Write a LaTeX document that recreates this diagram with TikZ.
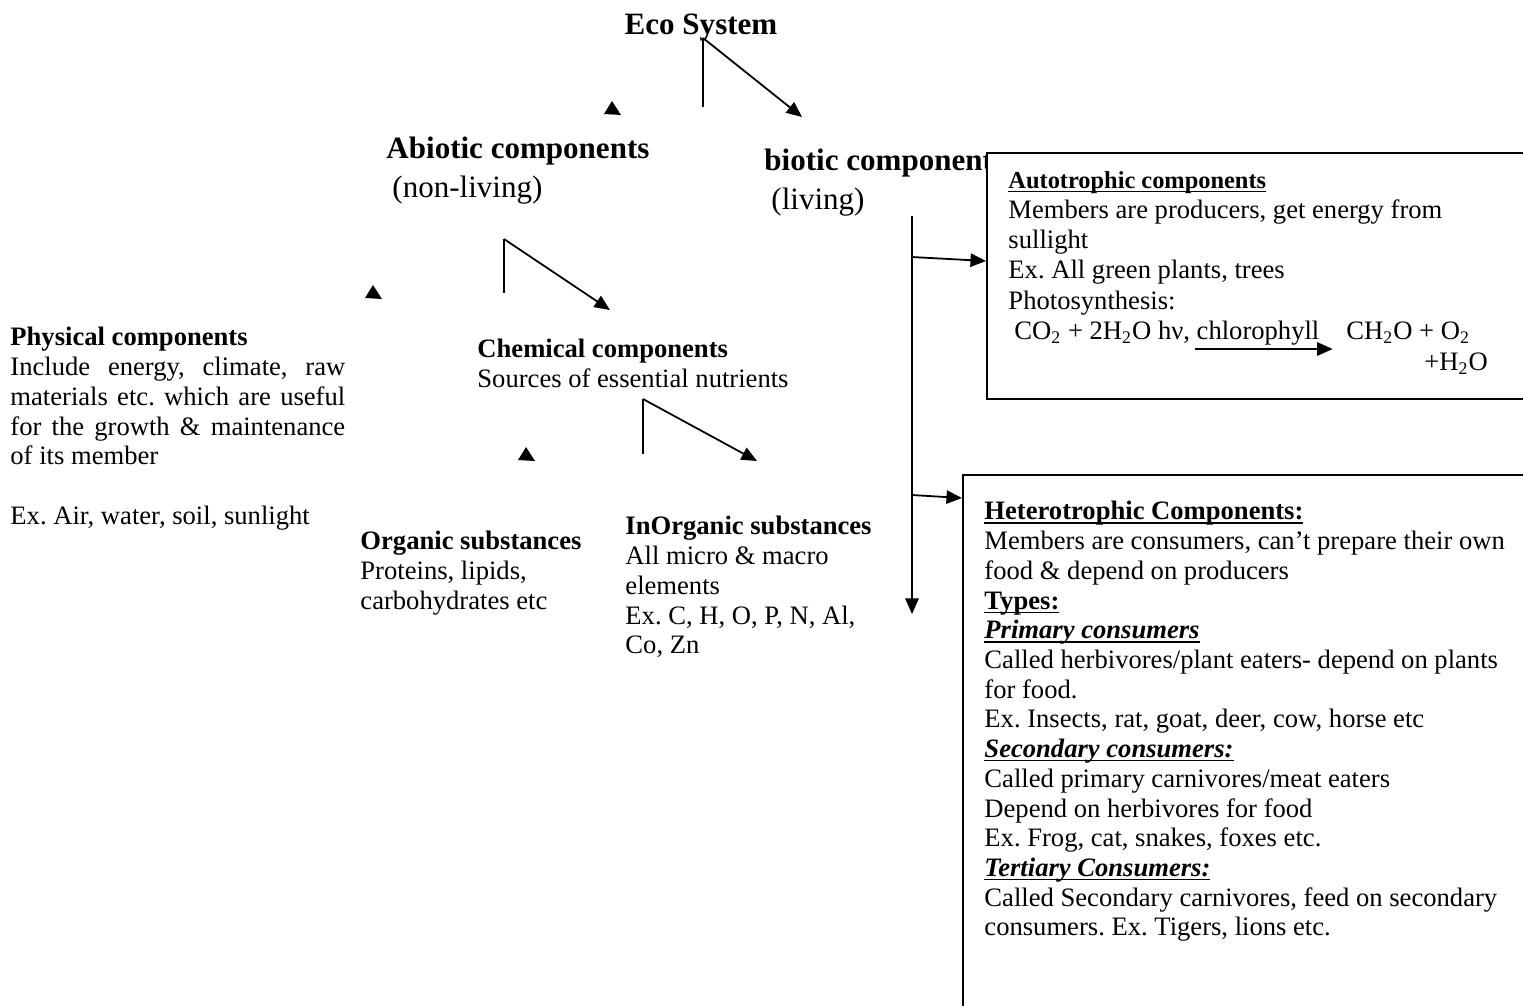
\documentclass[tikz,border=0pt]{standalone}
\usepackage{fontspec}
\setmainfont{Liberation Serif}
\usepackage{tikz}
\usetikzlibrary{arrows.meta,positioning,calc}
\frenchspacing
\newcommand\undl[1]{\setbox0\hbox{#1}\rlap{\rule[-1.7pt]{\wd0}{0.6pt}}\box0}

\begin{document}
\begin{tikzpicture}[
  x=0.451pt, y=-0.451pt,
  >={Triangle[length=7pt,width=6pt]},
  txt/.style={inner sep=0pt, anchor=north west, align=left, font=\fontsize{12}{13.4}\selectfont},
  head/.style={inner sep=0pt, anchor=north west, font=\fontsize{14}{17}\selectfont\bfseries},
  note/.style={inner sep=0pt, anchor=north west, font=\fontsize{14}{17}\selectfont},
  panel/.style={draw, line width=0.7pt, fill=white, inner sep=0pt, anchor=north west},
  link/.style={line width=0.8pt},
  stub/.style={fill=black}
]
\useasboundingbox (0,0) rectangle (1523,1005);
\clip (0,0) rectangle (1523,1005);

\node[head, anchor=north] (eco) at (701,13) {Eco System};
\node[head] (abio) at (386,137) {Abiotic components};
\node[note] (abionote) at (392,176) {(non-living)};
\node[head] (bio) at (764,149) {biotic components};
\node[note] (bionote) at (771,188) {(living)};

\node[txt, text width=151pt, align=justify] (phys) at (10,327)
  {\textbf{Physical components}\\
   Include energy, climate, raw\linebreak
   materials etc. which are useful\linebreak
   for the growth \& maintenance\linebreak
   of its member\\[13.4pt]
   Ex. Air, water, soil, sunlight};
\node[txt] (chem) at (477,339) {\textbf{Chemical components}\\Sources of essential nutrients};
\node[txt] (org) at (360,531) {\textbf{Organic substances}\\Proteins, lipids,\\carbohydrates etc};
\node[txt] (inorg) at (625,516) {\textbf{InOrganic substances}\\All micro \& macro\\elements\\Ex. C, H, O, P, N, Al,\\Co, Zn};

\coordinate (ecofork) at (703,38);
\coordinate (ecostem) at (703,107);
\coordinate (ecotip) at (802,117);
\coordinate (abiofork) at (504,239);
\coordinate (abiostem) at (504,293);
\coordinate (abiotip) at (610,310);
\coordinate (chemfork) at (643,399);
\coordinate (chemstem) at (643,454);
\coordinate (chemtip) at (757,461);

\draw[link] (ecofork) -- (ecostem);
\draw[link,->] (ecofork) -- (ecotip);
\draw[link] (abiofork) -- (abiostem);
\draw[link,->] (abiofork) -- (abiotip);
\draw[link] (chemfork) -- (chemstem);
\draw[link,->] (chemfork) -- (chemtip);

\foreach \p in {(613,108),(374,292),(527,454)}
  \fill[stub] \p +(-9,6) -- +(8,7) -- +(-1,-7) -- cycle;

\node[panel, minimum width=277pt, minimum height=111pt] (auto) at (986,152) {};
\node[panel, minimum width=271pt, minimum height=260pt] (hetero) at (962,474) {};

\node[txt, font=\fontsize{12}{13.6}\selectfont] (autotxt) at (1008,171)
  {{\fontsize{11}{13}\selectfont\undl{\textbf{Autotrophic components}}}\\
   Members are producers, get energy from\\
   sullight\\
   Ex. All green plants, trees\\
   Photosynthesis:};
\node[txt] (react) at (1014,321) {CO\textsubscript{2} + 2H\textsubscript{2}O hν, chlorophyll};
\node[txt] (prod) at (1346,321) {CH\textsubscript{2}O + O\textsubscript{2}};
\node[txt] (water) at (1424,352) {+H\textsubscript{2}O};
\coordinate (rxn) at (1195,349);
\draw[link,->,shorten >=6pt] (rxn) -- (rxn -| prod.west);

\node[txt] (heterotxt) at (984,501)
  {\undl{\textbf{Heterotrophic Components:}}\\
   Members are consumers, can’t prepare their own\\
   food \& depend on producers\\
   \undl{\textbf{Types:}}\\
   \undl{\textbf{\textit{Primary consumers}}}\\
   Called herbivores/plant eaters- depend on plants\\
   for food.\\
   Ex. Insects, rat, goat, deer, cow, horse etc\\
   \undl{\textbf{\textit{Secondary consumers:}}}\\
   Called primary carnivores/meat eaters\\
   Depend on herbivores for food\\
   Ex. Frog, cat, snakes, foxes etc.\\
   \undl{\textbf{\textit{Tertiary Consumers:}}}\\
   Called Secondary carnivores, feed on secondary\\
   consumers. Ex. Tigers, lions etc.};

\coordinate (biotop) at (912,216);
\coordinate (biobot) at (912,614);
\coordinate (autobranch) at (912,257);
\coordinate (heterobranch) at (912,495);
\draw[link,->] (biotop) -- (biobot);
\draw[link,->] (autobranch) -- ($(auto.north west)+(0,109)$);
\draw[link,->] (heterobranch) -- ($(hetero.north west)+(0,24)$);
\end{tikzpicture}
\end{document}
